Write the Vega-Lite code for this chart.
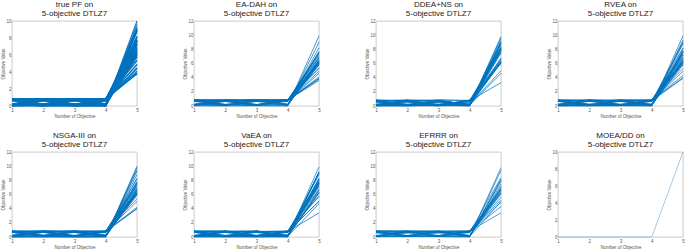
{
"$schema":"https://vega.github.io/schema/vega-lite/v6.json",
"padding":{"left":0,"top":0,"right":0,"bottom":0},
"spacing":12,
"datasets":{"d":[
{"m":"PF","i":1,"1":0,"2":0,"3":0,"4":0,"5":10},
{"m":"PF","i":2,"1":0.1,"2":0.2,"3":0.05,"4":0.15,"5":9.06},
{"m":"PF","i":3,"1":0.86,"2":0.1,"3":0.2,"4":0.7,"5":6.82},
{"m":"PF","i":4,"1":0.2,"2":0.75,"3":0.1,"4":0.86,"5":6.46},
{"m":"PF","i":5,"1":0.7,"2":0.7,"3":0.8,"4":0.05,"5":6.54},
{"m":"PF","i":6,"1":0.05,"2":0.86,"3":0.86,"4":0.2,"5":6.15},
{"m":"PF","i":7,"1":0.8,"2":0.8,"3":0.75,"4":0.86,"5":3.91},
{"m":"PF","i":8,"1":0.15,"2":0.05,"3":0.7,"4":0.8,"5":7.15},
{"m":"PF","i":9,"1":0.75,"2":0.2,"3":0.2,"4":0.1,"5":7.76},
{"m":"PF","i":10,"1":0.25,"2":0.63,"3":0.86,"4":0.75,"5":6.19},
{"m":"PF","i":11,"1":0.63,"2":0.15,"3":0.05,"4":0.25,"5":8.79},
{"m":"PF","i":12,"1":0.86,"2":0.75,"3":0.2,"4":0.63,"5":6.22},
{"m":"PF","i":13,"1":0.1,"2":0.8,"3":0.63,"4":0.05,"5":7.77},
{"m":"PF","i":14,"1":0.2,"2":0.1,"3":0.8,"4":0.86,"5":6.18},
{"m":"PF","i":15,"1":0.7,"2":0.86,"3":0.1,"4":0.75,"5":5.93},
{"m":"PF","i":16,"1":0.05,"2":0.25,"3":0.25,"4":0.7,"5":8.16},
{"m":"PF","i":17,"1":0.8,"2":0.63,"3":0.7,"4":0.2,"5":6.72},
{"m":"PF","i":18,"1":0.15,"2":0.7,"3":0.15,"4":0.8,"5":6.93},
{"m":"PF","i":19,"1":0.86,"2":0.86,"3":0.63,"4":0.1,"5":6.02},
{"m":"PF","i":20,"1":0.63,"2":0.05,"3":0.86,"4":0.86,"5":6.13},
{"m":"PF","i":21,"1":0.25,"2":0.2,"3":0.75,"4":0.15,"5":7.61},
{"m":"PF","i":22,"1":0.75,"2":0.75,"3":0.75,"4":0.75,"5":4.88},
{"m":"PF","i":23,"1":0,"2":0.15,"3":0.2,"4":0.63,"5":8.9},
{"m":"PF","i":24,"1":0.86,"2":0.2,"3":0.86,"4":0.25,"5":5.8},
{"m":"PF","i":25,"1":0.1,"2":0.63,"3":0.1,"4":0.86,"5":7.53},
{"m":"PF","i":26,"1":0.7,"2":0.1,"3":0.63,"4":0.7,"5":7.57},
{"m":"PF","i":27,"1":0.2,"2":0.86,"3":0.7,"4":0.86,"5":5.31},
{"m":"PF","i":28,"1":0.8,"2":0.25,"3":0.05,"4":0.8,"5":6.38},
{"m":"PF","i":29,"1":0.05,"2":0.05,"3":0.86,"4":0.05,"5":8.09},
{"m":"PF","i":30,"1":0.63,"2":0.8,"3":0.25,"4":0.2,"5":7.21},
{"m":"PF","i":31,"1":0.86,"2":0.7,"3":0.86,"4":0.8,"5":4.14},
{"m":"PF","i":32,"1":0.15,"2":0.86,"3":0.15,"4":0,"5":7.71},
{"m":"PF","i":33,"1":0.25,"2":0.75,"3":0.8,"4":0.63,"5":6.32},
{"m":"PF","i":34,"1":0.7,"2":0.25,"3":0.7,"4":0.25,"5":7.32},
{"m":"PF","i":35,"1":0.8,"2":0.86,"3":0.8,"4":0.75,"5":3.91},
{"m":"PF","i":36,"1":0.1,"2":0.1,"3":0.1,"4":0.1,"5":9.28},
{"m":"PF","i":37,"1":0.86,"2":0.63,"3":0.63,"4":0.86,"5":5.78},
{"m":"PF","i":38,"1":0.2,"2":0.2,"3":0.63,"4":0.75,"5":7.53},
{"m":"PF","i":39,"1":0.75,"2":0.8,"3":0.86,"4":0.86,"5":3.77},
{"m":"PF","i":40,"1":0.05,"2":0.7,"3":0.2,"4":0.2,"5":8.23},
{"m":"PF","i":41,"1":0.63,"2":0.63,"3":0.15,"4":0.8,"5":7.31},
{"m":"PF","i":42,"1":0.86,"2":0.15,"3":0.75,"4":0.05,"5":6.66},
{"m":"PF","i":43,"1":0,"2":0.86,"3":0.05,"4":0.7,"5":7.32},
{"m":"PF","i":44,"1":0.25,"2":0.05,"3":0.63,"4":0.15,"5":8.79},
{"m":"PF","i":45,"1":0.8,"2":0.7,"3":0.2,"4":0.86,"5":5.44},
{"m":"PF","i":46,"1":0.15,"2":0.8,"3":0.86,"4":0.25,"5":6.02},
{"m":"PF","i":47,"1":0.7,"2":0.86,"3":0.7,"4":0.63,"5":6.06},
{"m":"PF","i":48,"1":0.1,"2":0.25,"3":0.8,"4":0.1,"5":7.65},
{"m":"PF","i":49,"1":0.05,"2":0.1,"3":0,"4":0.05,"5":9.6},
{"m":"PF","i":50,"1":0.2,"2":0,"3":0.1,"4":0.2,"5":9.0},
{"m":"PF","i":51,"1":0.7,"2":0.05,"3":0.05,"4":0.05,"5":8.9},
{"m":"PF","i":52,"1":0.0,"2":0.7,"3":0.0,"4":0.15,"5":8.8},
{"m":"PF","i":53,"1":0.8,"2":0.8,"3":0.05,"4":0.0,"5":6.8},
{"m":"PF","i":54,"1":0.86,"2":0.86,"3":0.86,"4":0.63,"5":4.5},
{"m":"PF","i":55,"1":0.75,"2":0.63,"3":0.86,"4":0.8,"5":4.9},
{"m":"PF","i":56,"1":0.63,"2":0.86,"3":0.75,"4":0.86,"5":4.4},
{"m":"PF","i":57,"1":0.15,"2":0.15,"3":0.15,"4":0.86,"5":8.0},
{"m":"PF","i":58,"1":0.25,"2":0.0,"3":0.25,"4":0.05,"5":9.1},
{"m":"PF","i":59,"1":0.8,"2":0.15,"3":0.63,"4":0.63,"5":6.5},
{"m":"PF","i":60,"1":0.05,"2":0.63,"3":0.8,"4":0.8,"5":5.8},
{"m":"DAH","i":1,"1":0.02,"2":0.01,"3":0.03,"4":0,"5":9.9},
{"m":"DAH","i":2,"1":0.12,"2":0.21,"3":0.06,"4":0.16,"5":9.0},
{"m":"DAH","i":3,"1":0.85,"2":0.11,"3":0.19,"4":0.71,"5":6.8},
{"m":"DAH","i":4,"1":0.21,"2":0.76,"3":0.11,"4":0.85,"5":6.4},
{"m":"DAH","i":5,"1":0.71,"2":0.69,"3":0.81,"4":0.06,"5":6.5},
{"m":"DAH","i":6,"1":0.06,"2":0.85,"3":0.85,"4":0.21,"5":6.1},
{"m":"DAH","i":7,"1":0.81,"2":0.79,"3":0.76,"4":0.85,"5":3.9},
{"m":"DAH","i":8,"1":0.16,"2":0.06,"3":0.71,"4":0.81,"5":7.1},
{"m":"DAH","i":9,"1":0.76,"2":0.21,"3":0.19,"4":0.11,"5":7.7},
{"m":"DAH","i":10,"1":0.24,"2":0.64,"3":0.85,"4":0.76,"5":6.2},
{"m":"DAH","i":11,"1":0.86,"2":0.76,"3":0.21,"4":0.64,"5":6.2},
{"m":"DAH","i":12,"1":0.21,"2":0.11,"3":0.79,"4":0.86,"5":6.2},
{"m":"DAH","i":13,"1":0.71,"2":0.85,"3":0.11,"4":0.76,"5":5.9},
{"m":"DAH","i":14,"1":0.81,"2":0.64,"3":0.71,"4":0.21,"5":6.7},
{"m":"DAH","i":15,"1":0.16,"2":0.71,"3":0.16,"4":0.81,"5":6.9},
{"m":"DAH","i":16,"1":0.85,"2":0.85,"3":0.64,"4":0.11,"5":6.0},
{"m":"DAH","i":17,"1":0.64,"2":0.06,"3":0.85,"4":0.85,"5":6.1},
{"m":"DAH","i":18,"1":0.76,"2":0.76,"3":0.76,"4":0.76,"5":4.9},
{"m":"DAH","i":19,"1":0.85,"2":0.21,"3":0.85,"4":0.24,"5":5.8},
{"m":"DAH","i":20,"1":0.11,"2":0.64,"3":0.11,"4":0.85,"5":7.5},
{"m":"DAH","i":21,"1":0.21,"2":0.85,"3":0.71,"4":0.85,"5":5.3},
{"m":"DAH","i":22,"1":0.81,"2":0.24,"3":0.06,"4":0.81,"5":6.4},
{"m":"DAH","i":23,"1":0.85,"2":0.71,"3":0.85,"4":0.81,"5":4.1},
{"m":"DAH","i":24,"1":0.24,"2":0.76,"3":0.81,"4":0.64,"5":6.3},
{"m":"DAH","i":25,"1":0.81,"2":0.85,"3":0.81,"4":0.76,"5":3.9},
{"m":"DAH","i":26,"1":0.85,"2":0.64,"3":0.64,"4":0.85,"5":5.8},
{"m":"DAH","i":27,"1":0.76,"2":0.81,"3":0.85,"4":0.85,"5":3.8},
{"m":"DAH","i":28,"1":0.64,"2":0.64,"3":0.16,"4":0.81,"5":7.3},
{"m":"DAH","i":29,"1":0.81,"2":0.71,"3":0.21,"4":0.85,"5":5.4},
{"m":"DAH","i":30,"1":0.16,"2":0.81,"3":0.85,"4":0.24,"5":6.0},
{"m":"DAH","i":31,"1":0.71,"2":0.85,"3":0.71,"4":0.64,"5":6.1},
{"m":"DAH","i":32,"1":0.85,"2":0.81,"3":0.81,"4":0.85,"5":3.6},
{"m":"DAH","i":33,"1":0.06,"2":0.71,"3":0.21,"4":0.21,"5":8.2},
{"m":"DAH","i":34,"1":0.71,"2":0.11,"3":0.64,"4":0.71,"5":7.6},
{"m":"DAH","i":35,"1":0.85,"2":0.76,"3":0.85,"4":0.71,"5":4.6},
{"m":"DAH","i":36,"1":0.21,"2":0.21,"3":0.64,"4":0.76,"5":7.5},
{"m":"NS","i":1,"1":0.05,"2":0.1,"3":0.02,"4":0.08,"5":9.6},
{"m":"NS","i":2,"1":0.2,"2":0.05,"3":0.15,"4":0.1,"5":9.0},
{"m":"NS","i":3,"1":0.1,"2":0.2,"3":0.7,"4":0.05,"5":8.3},
{"m":"NS","i":4,"1":0.8,"2":0.1,"3":0.05,"4":0.15,"5":8.2},
{"m":"NS","i":5,"1":0.15,"2":0.75,"3":0.1,"4":0.2,"5":7.9},
{"m":"NS","i":6,"1":0.05,"2":0.05,"3":0.2,"4":0.8,"5":8.1},
{"m":"NS","i":7,"1":0.7,"2":0.2,"3":0.15,"4":0.7,"5":7.5},
{"m":"NS","i":8,"1":0.2,"2":0.8,"3":0.75,"4":0.1,"5":6.6},
{"m":"NS","i":9,"1":0.85,"2":0.15,"3":0.8,"4":0.2,"5":6.4},
{"m":"NS","i":10,"1":0.1,"2":0.85,"3":0.2,"4":0.75,"5":6.6},
{"m":"NS","i":11,"1":0.75,"2":0.7,"3":0.1,"4":0.05,"5":7.5},
{"m":"NS","i":12,"1":0.25,"2":0.1,"3":0.25,"4":0.25,"5":8.6},
{"m":"NS","i":13,"1":0,"2":0,"3":0.1,"4":0,"5":9.8},
{"m":"NS","i":14,"1":0.65,"2":0.05,"3":0.1,"4":0.1,"5":9.0},
{"m":"NS","i":15,"1":0.1,"2":0.65,"3":0.2,"4":0.65,"5":8.3},
{"m":"NS","i":16,"1":0.8,"2":0.8,"3":0.15,"4":0.2,"5":6.2},
{"m":"NS","i":17,"1":0.2,"2":0.7,"3":0.8,"4":0.15,"5":6.8},
{"m":"NS","i":18,"1":0.15,"2":0.2,"3":0.85,"4":0.8,"5":6.0},
{"m":"NS","i":19,"1":0.7,"2":0.1,"3":0.7,"4":0.1,"5":7.9},
{"m":"NS","i":20,"1":0.85,"2":0.2,"3":0.1,"4":0.85,"5":6.1},
{"m":"NS","i":21,"1":0.05,"2":0.15,"3":0.65,"4":0.2,"5":8.8},
{"m":"NS","i":22,"1":0.2,"2":0.25,"3":0.05,"4":0.7,"5":8.2},
{"m":"NS","i":23,"1":0.75,"2":0.85,"3":0.75,"4":0.2,"5":5.0},
{"m":"NS","i":24,"1":0.8,"2":0.75,"3":0.85,"4":0.75,"5":3.3},
{"m":"NS","i":25,"1":0.65,"2":0.8,"3":0.8,"4":0.1,"5":6.1},
{"m":"NS","i":26,"1":0.1,"2":0.05,"3":0.05,"4":0.25,"5":9.3},
{"m":"NS","i":27,"1":0.7,"2":0.7,"3":0.7,"4":0.2,"5":6.2},
{"m":"NS","i":28,"1":0.15,"2":0.8,"3":0.1,"4":0.1,"5":8.0},
{"m":"NS","i":29,"1":0.85,"2":0.7,"3":0.8,"4":0.15,"5":4.6},
{"m":"NS","i":30,"1":0.45,"2":0.2,"3":0.1,"4":0.05,"5":8.8},
{"m":"NS","i":31,"1":0.1,"2":0.45,"3":0.5,"4":0.15,"5":8.2},
{"m":"NS","i":32,"1":0.2,"2":0.1,"3":0.45,"4":0.5,"5":8.0},
{"m":"NS","i":33,"1":0.5,"2":0.55,"3":0.15,"4":0.8,"5":6.3},
{"m":"NS","i":34,"1":0.05,"2":0.2,"3":0.2,"4":0.1,"5":9.0},
{"m":"NS","i":35,"1":0.6,"2":0.15,"3":0.6,"4":0.2,"5":7.7},
{"m":"NS","i":36,"1":0.2,"2":0.6,"3":0.05,"4":0.4,"5":8.2},
{"m":"RV","i":1,"1":0.01,"2":0,"3":0.02,"4":0.01,"5":9.9},
{"m":"RV","i":2,"1":0.1,"2":0.15,"3":0.08,"4":0.2,"5":9.1},
{"m":"RV","i":3,"1":0.84,"2":0.12,"3":0.22,"4":0.68,"5":6.8},
{"m":"RV","i":4,"1":0.22,"2":0.74,"3":0.1,"4":0.84,"5":6.4},
{"m":"RV","i":5,"1":0.68,"2":0.72,"3":0.78,"4":0.08,"5":6.6},
{"m":"RV","i":6,"1":0.06,"2":0.84,"3":0.82,"4":0.2,"5":6.2},
{"m":"RV","i":7,"1":0.8,"2":0.78,"3":0.76,"4":0.84,"5":4.0},
{"m":"RV","i":8,"1":0.14,"2":0.06,"3":0.7,"4":0.78,"5":7.2},
{"m":"RV","i":9,"1":0.74,"2":0.2,"3":0.22,"4":0.12,"5":7.8},
{"m":"RV","i":10,"1":0.24,"2":0.66,"3":0.84,"4":0.74,"5":6.2},
{"m":"RV","i":11,"1":0.66,"2":0.14,"3":0.06,"4":0.24,"5":8.8},
{"m":"RV","i":12,"1":0.84,"2":0.74,"3":0.2,"4":0.66,"5":6.3},
{"m":"RV","i":13,"1":0.12,"2":0.8,"3":0.66,"4":0.06,"5":7.8},
{"m":"RV","i":14,"1":0.2,"2":0.12,"3":0.8,"4":0.84,"5":6.2},
{"m":"RV","i":15,"1":0.7,"2":0.84,"3":0.1,"4":0.74,"5":5.9},
{"m":"RV","i":16,"1":0.06,"2":0.24,"3":0.24,"4":0.7,"5":8.2},
{"m":"RV","i":17,"1":0.8,"2":0.66,"3":0.7,"4":0.2,"5":6.7},
{"m":"RV","i":18,"1":0.16,"2":0.7,"3":0.16,"4":0.8,"5":6.9},
{"m":"RV","i":19,"1":0.84,"2":0.84,"3":0.66,"4":0.1,"5":6.0},
{"m":"RV","i":20,"1":0.66,"2":0.06,"3":0.84,"4":0.84,"5":6.1},
{"m":"RV","i":21,"1":0.24,"2":0.2,"3":0.74,"4":0.16,"5":7.6},
{"m":"RV","i":22,"1":0.74,"2":0.76,"3":0.74,"4":0.76,"5":4.9},
{"m":"RV","i":23,"1":0.02,"2":0.16,"3":0.2,"4":0.66,"5":8.9},
{"m":"RV","i":24,"1":0.84,"2":0.2,"3":0.84,"4":0.24,"5":5.8},
{"m":"RV","i":25,"1":0.1,"2":0.66,"3":0.1,"4":0.84,"5":7.5},
{"m":"RV","i":26,"1":0.7,"2":0.1,"3":0.66,"4":0.7,"5":7.6},
{"m":"RV","i":27,"1":0.2,"2":0.84,"3":0.7,"4":0.84,"5":5.3},
{"m":"RV","i":28,"1":0.8,"2":0.24,"3":0.06,"4":0.8,"5":6.4},
{"m":"RV","i":29,"1":0.06,"2":0.06,"3":0.84,"4":0.06,"5":8.1},
{"m":"RV","i":30,"1":0.66,"2":0.8,"3":0.24,"4":0.2,"5":7.2},
{"m":"RV","i":31,"1":0.84,"2":0.7,"3":0.84,"4":0.8,"5":4.3},
{"m":"RV","i":32,"1":0.16,"2":0.84,"3":0.16,"4":0.02,"5":7.7},
{"m":"RV","i":33,"1":0.24,"2":0.74,"3":0.8,"4":0.66,"5":6.3},
{"m":"RV","i":34,"1":0.7,"2":0.24,"3":0.7,"4":0.24,"5":7.3},
{"m":"RV","i":35,"1":0.8,"2":0.84,"3":0.8,"4":0.74,"5":3.9},
{"m":"RV","i":36,"1":0.1,"2":0.1,"3":0.1,"4":0.1,"5":9.3},
{"m":"N3","i":1,"1":0,"2":0.02,"3":0,"4":0.01,"5":10.0},
{"m":"N3","i":2,"1":0.02,"2":0,"3":0.03,"4":0.02,"5":9.8},
{"m":"N3","i":3,"1":0.05,"2":0.1,"3":0.02,"4":0.05,"5":9.5},
{"m":"N3","i":4,"1":0.82,"2":0.1,"3":0.2,"4":0.7,"5":6.9},
{"m":"N3","i":5,"1":0.2,"2":0.76,"3":0.12,"4":0.84,"5":6.5},
{"m":"N3","i":6,"1":0.7,"2":0.7,"3":0.8,"4":0.06,"5":6.6},
{"m":"N3","i":7,"1":0.05,"2":0.84,"3":0.84,"4":0.2,"5":6.2},
{"m":"N3","i":8,"1":0.8,"2":0.8,"3":0.75,"4":0.84,"5":4.0},
{"m":"N3","i":9,"1":0.16,"2":0.05,"3":0.7,"4":0.8,"5":7.2},
{"m":"N3","i":10,"1":0.76,"2":0.2,"3":0.2,"4":0.1,"5":7.8},
{"m":"N3","i":11,"1":0.25,"2":0.64,"3":0.84,"4":0.76,"5":6.2},
{"m":"N3","i":12,"1":0.64,"2":0.15,"3":0.05,"4":0.25,"5":8.8},
{"m":"N3","i":13,"1":0.84,"2":0.76,"3":0.2,"4":0.64,"5":6.3},
{"m":"N3","i":14,"1":0.1,"2":0.8,"3":0.64,"4":0.05,"5":7.8},
{"m":"N3","i":15,"1":0.7,"2":0.84,"3":0.1,"4":0.76,"5":6.0},
{"m":"N3","i":16,"1":0.05,"2":0.25,"3":0.25,"4":0.7,"5":8.2},
{"m":"N3","i":17,"1":0.8,"2":0.64,"3":0.7,"4":0.2,"5":6.8},
{"m":"N3","i":18,"1":0.15,"2":0.7,"3":0.15,"4":0.8,"5":7.0},
{"m":"N3","i":19,"1":0.84,"2":0.84,"3":0.64,"4":0.1,"5":6.1},
{"m":"N3","i":20,"1":0.64,"2":0.05,"3":0.84,"4":0.84,"5":6.2},
{"m":"N3","i":21,"1":0.76,"2":0.76,"3":0.76,"4":0.76,"5":5.0},
{"m":"N3","i":22,"1":0.84,"2":0.2,"3":0.84,"4":0.25,"5":5.9},
{"m":"N3","i":23,"1":0.1,"2":0.64,"3":0.1,"4":0.84,"5":7.6},
{"m":"N3","i":24,"1":0.2,"2":0.84,"3":0.7,"4":0.84,"5":5.4},
{"m":"N3","i":25,"1":0.8,"2":0.25,"3":0.05,"4":0.8,"5":6.5},
{"m":"N3","i":26,"1":0.84,"2":0.7,"3":0.84,"4":0.8,"5":4.2},
{"m":"N3","i":27,"1":0.25,"2":0.76,"3":0.8,"4":0.64,"5":6.4},
{"m":"N3","i":28,"1":0.7,"2":0.25,"3":0.7,"4":0.25,"5":7.4},
{"m":"N3","i":29,"1":0.8,"2":0.84,"3":0.8,"4":0.76,"5":4.0},
{"m":"N3","i":30,"1":0.1,"2":0.1,"3":0.1,"4":0.1,"5":9.3},
{"m":"N3","i":31,"1":0.64,"2":0.64,"3":0.15,"4":0.8,"5":7.4},
{"m":"N3","i":32,"1":0.05,"2":0.7,"3":0.2,"4":0.2,"5":8.3},
{"m":"N3","i":33,"1":0.84,"2":0.15,"3":0.76,"4":0.05,"5":6.7},
{"m":"N3","i":34,"1":0.2,"2":0.2,"3":0.64,"4":0.76,"5":7.6},
{"m":"N3","i":35,"1":0.15,"2":0.8,"3":0.84,"4":0.25,"5":6.1},
{"m":"N3","i":36,"1":0.7,"2":0.84,"3":0.7,"4":0.64,"5":6.1},
{"m":"Va","i":1,"1":0.01,"2":0.01,"3":0.01,"4":0.01,"5":9.9},
{"m":"Va","i":2,"1":0.1,"2":0.05,"3":0.15,"4":0.2,"5":9.1},
{"m":"Va","i":3,"1":0.2,"2":0.1,"3":0.05,"4":0.8,"5":8.0},
{"m":"Va","i":4,"1":0.75,"2":0.15,"3":0.2,"4":0.1,"5":7.8},
{"m":"Va","i":5,"1":0.05,"2":0.8,"3":0.1,"4":0.15,"5":8.2},
{"m":"Va","i":6,"1":0.15,"2":0.2,"3":0.75,"4":0.05,"5":8.1},
{"m":"Va","i":7,"1":0.7,"2":0.7,"3":0.1,"4":0.2,"5":7.6},
{"m":"Va","i":8,"1":0.2,"2":0.85,"3":0.85,"4":0.1,"5":6.2},
{"m":"Va","i":9,"1":0.85,"2":0.1,"3":0.2,"4":0.85,"5":6.2},
{"m":"Va","i":10,"1":0.1,"2":0.75,"3":0.2,"4":0.75,"5":7.2},
{"m":"Va","i":11,"1":0.8,"2":0.2,"3":0.8,"4":0.05,"5":6.6},
{"m":"Va","i":12,"1":0.65,"2":0.05,"3":0.7,"4":0.65,"5":7.8},
{"m":"Va","i":13,"1":0.25,"2":0.25,"3":0.25,"4":0.25,"5":8.3},
{"m":"Va","i":14,"1":0.05,"2":0.05,"3":0.65,"4":0.1,"5":9.2},
{"m":"Va","i":15,"1":0.15,"2":0.65,"3":0.05,"4":0.05,"5":9.1},
{"m":"Va","i":16,"1":0.85,"2":0.85,"3":0.1,"4":0.15,"5":6.3},
{"m":"Va","i":17,"1":0.1,"2":0.15,"3":0.8,"4":0.8,"5":6.6},
{"m":"Va","i":18,"1":0.7,"2":0.2,"3":0.15,"4":0.7,"5":7.6},
{"m":"Va","i":19,"1":0.2,"2":0.7,"3":0.7,"4":0.2,"5":7.4},
{"m":"Va","i":20,"1":0.8,"2":0.75,"3":0.85,"4":0.1,"5":4.7},
{"m":"Va","i":21,"1":0.85,"2":0.8,"3":0.75,"4":0.8,"5":3.4},
{"m":"Va","i":22,"1":0.75,"2":0.05,"3":0.05,"4":0.75,"5":7.4},
{"m":"Va","i":23,"1":0.05,"2":0.2,"3":0.2,"4":0.05,"5":9.1},
{"m":"Va","i":24,"1":0.65,"2":0.65,"3":0.65,"4":0.2,"5":7.7},
{"m":"Va","i":25,"1":0.2,"2":0.8,"3":0.1,"4":0.8,"5":6.8},
{"m":"Va","i":26,"1":0.8,"2":0.1,"3":0.85,"4":0.2,"5":6.3},
{"m":"Va","i":27,"1":0.1,"2":0.7,"3":0.75,"4":0.85,"5":5.7},
{"m":"Va","i":28,"1":0.7,"2":0.85,"3":0.2,"4":0.7,"5":5.8},
{"m":"Va","i":29,"1":0.15,"2":0.1,"3":0.1,"4":0.65,"5":8.8},
{"m":"Va","i":30,"1":0.85,"2":0.15,"3":0.05,"4":0.1,"5":8.2},
{"m":"Va","i":31,"1":0.05,"2":0.85,"3":0.15,"4":0.25,"5":7.6},
{"m":"Va","i":32,"1":0.75,"2":0.75,"3":0.8,"4":0.65,"5":5.1},
{"m":"Va","i":33,"1":0.2,"2":0.05,"3":0.85,"4":0.25,"5":7.7},
{"m":"Va","i":34,"1":0.1,"2":0.2,"3":0.1,"4":0.1,"5":9.1},
{"m":"Va","i":35,"1":0.65,"2":0.2,"3":0.2,"4":0.85,"5":7.1},
{"m":"Va","i":36,"1":0.8,"2":0.8,"3":0.2,"4":0.8,"5":5.0},
{"m":"EF","i":1,"1":0.05,"2":0.1,"3":0.05,"4":0,"5":9.8},
{"m":"EF","i":2,"1":0.8,"2":0.1,"3":0.2,"4":0.1,"5":8.2},
{"m":"EF","i":3,"1":0.1,"2":0.8,"3":0.1,"4":0.7,"5":6.8},
{"m":"EF","i":4,"1":0.7,"2":0.7,"3":0.2,"4":0.8,"5":5.2},
{"m":"EF","i":5,"1":0.2,"2":0.2,"3":0.8,"4":0.2,"5":6.8},
{"m":"EF","i":6,"1":0.85,"2":0.85,"3":0.85,"4":0.1,"5":5.0},
{"m":"EF","i":7,"1":0.6,"2":0.1,"3":0.6,"4":0.6,"5":7.0},
{"m":"EF","i":8,"1":0.1,"2":0.6,"3":0.6,"4":0.1,"5":7.9},
{"m":"EF","i":9,"1":0.85,"2":0.2,"3":0.1,"4":0.85,"5":6.2},
{"m":"EF","i":10,"1":0.2,"2":0.85,"3":0.8,"4":0.8,"5":4.3},
{"m":"EF","i":11,"1":0.75,"2":0.75,"3":0.75,"4":0.75,"5":4.9},
{"m":"EF","i":12,"1":0.1,"2":0.1,"3":0.85,"4":0.85,"5":6.4},
{"m":"EF","i":13,"1":0.85,"2":0.85,"3":0.1,"4":0.2,"5":6.2},
{"m":"EF","i":14,"1":0.6,"2":0.6,"3":0.1,"4":0.1,"5":8.0},
{"m":"EF","i":15,"1":0.2,"2":0.1,"3":0.2,"4":0.65,"5":8.4},
{"m":"EF","i":16,"1":0.85,"2":0.8,"3":0.8,"4":0.85,"5":3.4},
{"m":"EF","i":17,"1":0.1,"2":0.75,"3":0.75,"4":0.2,"5":6.5},
{"m":"EF","i":18,"1":0.75,"2":0.2,"3":0.75,"4":0.2,"5":6.7},
{"m":"EF","i":19,"1":0.7,"2":0.1,"3":0.1,"4":0.85,"5":6.7},
{"m":"EF","i":20,"1":0.2,"2":0.6,"3":0.85,"4":0.05,"5":7.2},
{"m":"EF","i":21,"1":0.05,"2":0.05,"3":0.2,"4":0.05,"5":9.4},
{"m":"EF","i":22,"1":0.8,"2":0.65,"3":0.6,"4":0.7,"5":5.6},
{"m":"EF","i":23,"1":0.1,"2":0.85,"3":0.2,"4":0.85,"5":6.0},
{"m":"EF","i":24,"1":0.65,"2":0.2,"3":0.7,"4":0.1,"5":7.5},
{"m":"DD","i":1,"1":0,"2":0,"3":0,"4":0,"5":10}
]},
"vconcat":[
{"bounds":"flush","spacing":57,"hconcat":[
{"width":125,"height":85,"title":{"text":["true PF on","5-objective DTLZ7"]},"data":{"name":"d"},
 "transform":[{"filter":"datum.m=='PF'"},{"fold":["1","2","3","4","5"]}],
 "mark":{"type":"line","color":"#0072BD","strokeWidth":1.1,"opacity":0.95},
 "encoding":{"x":{"field":"key","type":"ordinal","scale":{"type":"point","padding":0},"axis":{"title":"Number of Objective"}},
  "y":{"field":"value","type":"quantitative","scale":{"domain":[0,10],"nice":false},"axis":{"title":"Objective Value","values":[0,2,4,6,8,10]}},
  "detail":{"field":"i"}}},
{"width":125,"height":85,"title":{"text":["EA-DAH on","5-objective DTLZ7"]},"data":{"name":"d"},
 "transform":[{"filter":"datum.m=='DAH'"},{"fold":["1","2","3","4","5"]}],
 "mark":{"type":"line","color":"#0072BD","strokeWidth":0.8,"opacity":0.9},
 "encoding":{"x":{"field":"key","type":"ordinal","scale":{"type":"point","padding":0},"axis":{"title":"Number of Objective"}},
  "y":{"field":"value","type":"quantitative","scale":{"domain":[0,12],"nice":false},"axis":{"title":"Objective Value","values":[0,2,4,6,8,10,12]}},
  "detail":{"field":"i"}}},
{"width":125,"height":85,"title":{"text":["DDEA+NS on","5-objective DTLZ7"]},"data":{"name":"d"},
 "transform":[{"filter":"datum.m=='NS'"},{"fold":["1","2","3","4","5"]}],
 "mark":{"type":"line","color":"#0072BD","strokeWidth":0.8,"opacity":0.9},
 "encoding":{"x":{"field":"key","type":"ordinal","scale":{"type":"point","padding":0},"axis":{"title":"Number of Objective"}},
  "y":{"field":"value","type":"quantitative","scale":{"domain":[0,12],"nice":false},"axis":{"title":"Objective Value","values":[0,2,4,6,8,10,12]}},
  "detail":{"field":"i"}}},
{"width":125,"height":85,"title":{"text":["RVEA on","5-objective DTLZ7"]},"data":{"name":"d"},
 "transform":[{"filter":"datum.m=='RV'"},{"fold":["1","2","3","4","5"]}],
 "mark":{"type":"line","color":"#0072BD","strokeWidth":0.8,"opacity":0.9},
 "encoding":{"x":{"field":"key","type":"ordinal","scale":{"type":"point","padding":0},"axis":{"title":"Number of Objective"}},
  "y":{"field":"value","type":"quantitative","scale":{"domain":[0,12],"nice":false},"axis":{"title":"Objective Value","values":[0,2,4,6,8,10,12]}},
  "detail":{"field":"i"}}}
]},
{"bounds":"flush","spacing":57,"hconcat":[
{"width":125,"height":85,"title":{"text":["NSGA-III on","5-objective DTLZ7"]},"data":{"name":"d"},
 "transform":[{"filter":"datum.m=='N3'"},{"fold":["1","2","3","4","5"]}],
 "mark":{"type":"line","color":"#0072BD","strokeWidth":0.8,"opacity":0.9},
 "encoding":{"x":{"field":"key","type":"ordinal","scale":{"type":"point","padding":0},"axis":{"title":"Number of Objective"}},
  "y":{"field":"value","type":"quantitative","scale":{"domain":[0,12],"nice":false},"axis":{"title":"Objective Value","values":[0,2,4,6,8,10,12]}},
  "detail":{"field":"i"}}},
{"width":125,"height":85,"title":{"text":["VaEA on","5-objective DTLZ7"]},"data":{"name":"d"},
 "transform":[{"filter":"datum.m=='Va'"},{"fold":["1","2","3","4","5"]}],
 "mark":{"type":"line","color":"#0072BD","strokeWidth":0.8,"opacity":0.9},
 "encoding":{"x":{"field":"key","type":"ordinal","scale":{"type":"point","padding":0},"axis":{"title":"Number of Objective"}},
  "y":{"field":"value","type":"quantitative","scale":{"domain":[0,12],"nice":false},"axis":{"title":"Objective Value","values":[0,2,4,6,8,10,12]}},
  "detail":{"field":"i"}}},
{"width":125,"height":85,"title":{"text":["EFRRR on","5-objective DTLZ7"]},"data":{"name":"d"},
 "transform":[{"filter":"datum.m=='EF'"},{"fold":["1","2","3","4","5"]}],
 "mark":{"type":"line","color":"#0072BD","strokeWidth":0.8,"opacity":0.85},
 "encoding":{"x":{"field":"key","type":"ordinal","scale":{"type":"point","padding":0},"axis":{"title":"Number of Objective"}},
  "y":{"field":"value","type":"quantitative","scale":{"domain":[0,12],"nice":false},"axis":{"title":"Objective Value","values":[0,2,4,6,8,10,12]}},
  "detail":{"field":"i"}}},
{"width":125,"height":85,"title":{"text":["MOEA/DD on","5-objective DTLZ7"]},"data":{"name":"d"},
 "transform":[{"filter":"datum.m=='DD'"},{"fold":["1","2","3","4","5"]}],
 "mark":{"type":"line","color":"#4a9fdc","strokeWidth":0.6,"opacity":0.9},
 "encoding":{"x":{"field":"key","type":"ordinal","scale":{"type":"point","padding":0},"axis":{"title":"Number of Objective"}},
  "y":{"field":"value","type":"quantitative","scale":{"domain":[0,10],"nice":false},"axis":{"title":"Objective Value","values":[0,2,4,6,8,10]}},
  "detail":{"field":"i"}}}
]}
],
"config":{
 "view":{"stroke":"#a6a6a6","strokeWidth":0.6},
 "axis":{"labelFont":"Liberation Sans","titleFont":"Liberation Sans","labelFontSize":4.5,"titleFontSize":4.5,"labelColor":"#555","titleColor":"#555","titleFontWeight":"normal","domain":false,"grid":false,"ticks":false,"labelPadding":1.5},
 "axisX":{"labelAngle":0,"titlePadding":1.5},
 "axisY":{"titlePadding":0.5,"labelPadding":1},
 "title":{"font":"Liberation Sans","fontSize":8,"fontWeight":"normal","color":"#222","lineHeight":9,"offset":0,"dy":4,"anchor":"middle"}
}
}
